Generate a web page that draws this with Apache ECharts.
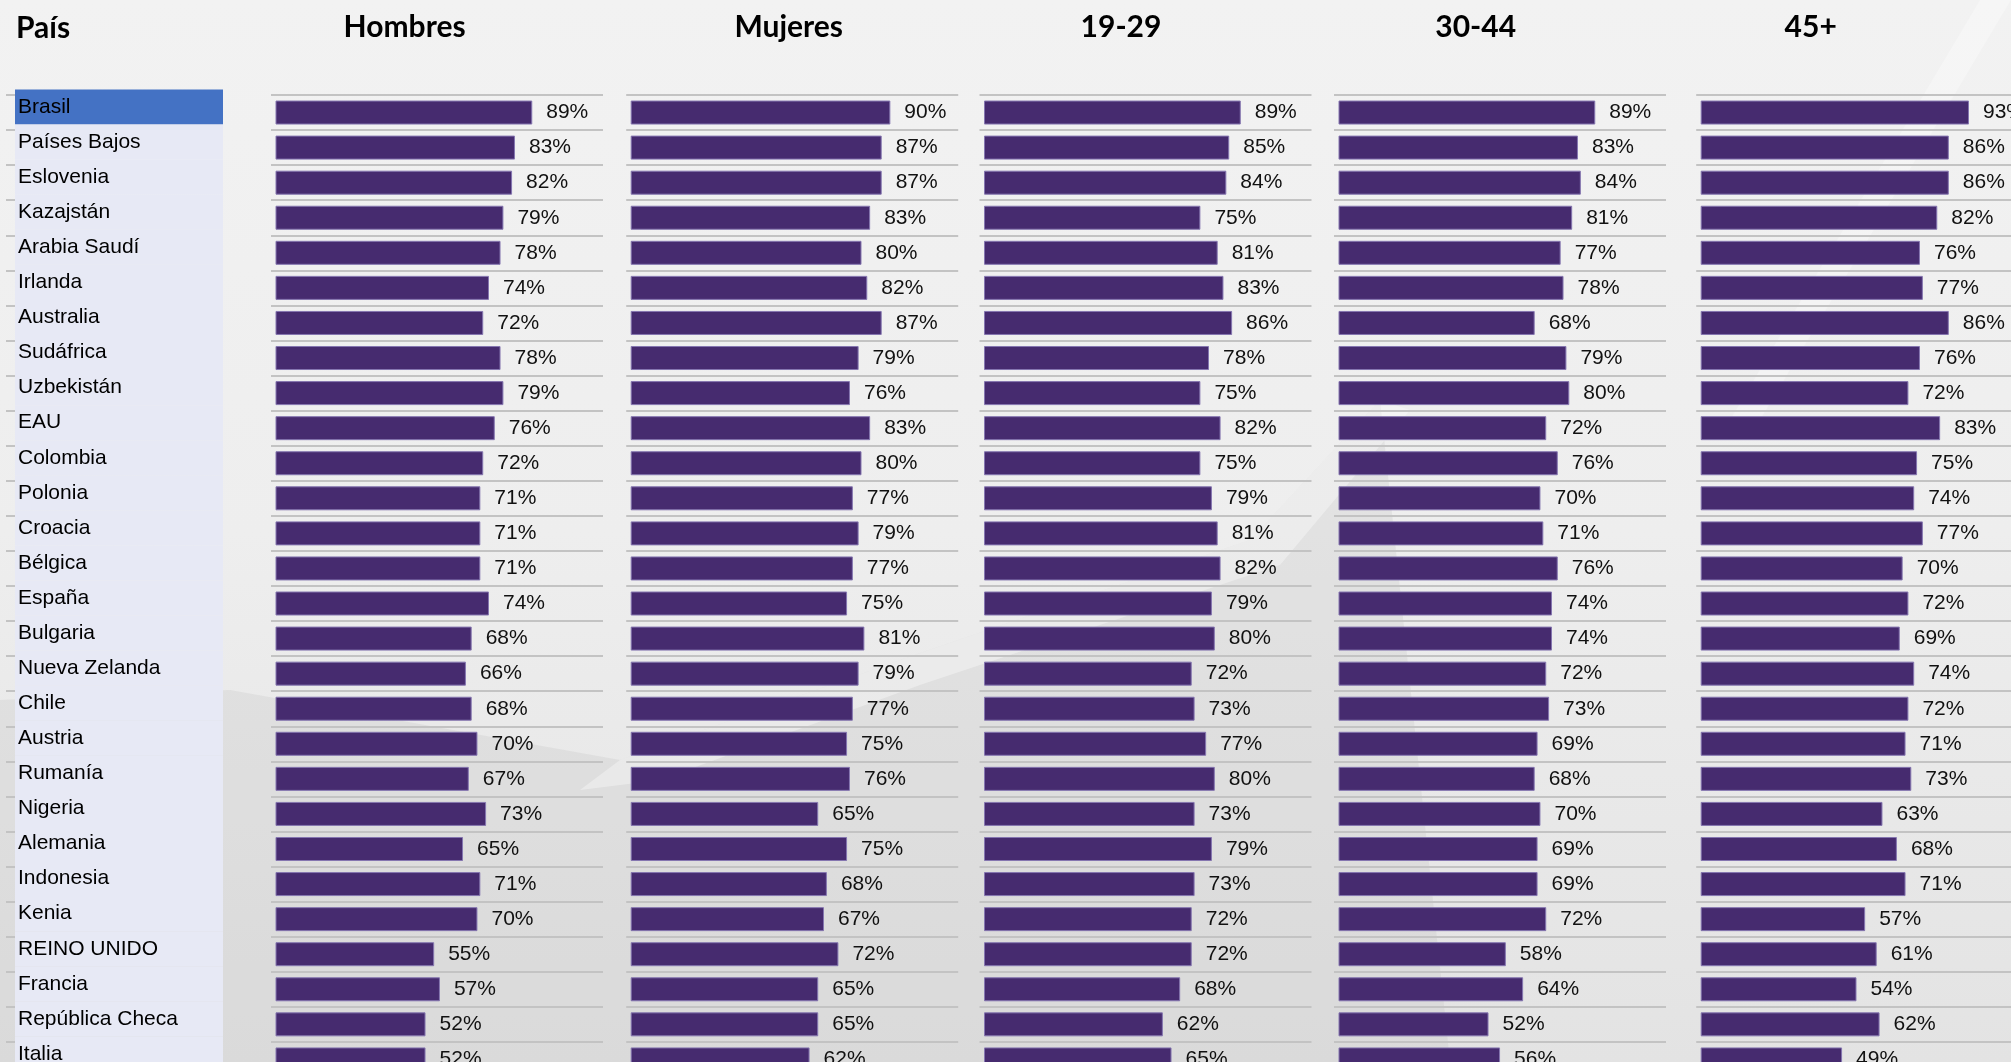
<!DOCTYPE html>
<html>
<head>
<meta charset="utf-8">
<title>País</title>
<script src="https://cdn.jsdelivr.net/npm/echarts@6/dist/echarts.min.js"></script>
<style>
html,body{margin:0;padding:0;background:#efefef;}
#main{width:2011px;height:1062px;}
</style>
</head>
<body>
<div id="main"></div>
<script>
// datos (% por país)
var paises=['Brasil','Países Bajos','Eslovenia','Kazajstán','Arabia Saudí','Irlanda','Australia','Sudáfrica','Uzbekistán','EAU',
  'Colombia','Polonia','Croacia','Bélgica','España','Bulgaria','Nueva Zelanda','Chile','Austria','Rumanía',
  'Nigeria','Alemania','Indonesia','Kenia','REINO UNIDO','Francia','República Checa','Italia'];
var columnas=['Hombres','Mujeres','19-29','30-44','45+'];
var hombres=[89,83,82,79,78,74,72,78,79,76,72,71,71,71,74,68,66,68,70,67,73,65,71,70,55,57,52,52];
var mujeres=[90,87,87,83,80,82,87,79,76,83,80,77,79,77,75,81,79,77,75,76,65,75,68,67,72,65,65,62];
var edad1929=[89,85,84,75,81,83,86,78,75,82,75,79,81,82,79,80,72,73,77,80,73,79,73,72,72,68,62,65];
var edad3044=[89,83,84,81,77,78,68,79,80,72,76,70,71,76,74,74,72,73,69,68,70,69,69,72,58,64,52,56];
var edad45=[93,86,86,82,76,77,86,76,72,83,75,74,77,70,72,69,74,72,71,73,63,68,71,57,61,54,62,49];
var valores=[hombres,mujeres,edad1929,edad3044,edad45];

var myChart=echarts.init(document.getElementById('main'));

var filaAlto=35.07;
var altoTabla=filaAlto*paises.length;
var topPaises=89.5;
var topBarras=95;
var colIzq=[271,626.2,979.5,1334,1696.2];   //inicio de las lineas de cada columna
var tituloX=[404.6,788.7,1121,1475.7,1810.7];
var pxPorPunto=2.885;
var anchoCol=332;
var margen=4.5;
var morado='#462b6f';
var fuente='"Liberation Sans", Arial, sans-serif';

var grids=[],xAxes=[],yAxes=[],series=[];

// columna de paises
grids.push({left:15,top:topPaises,width:208,height:altoTabla,outerBoundsMode:'none'});
xAxes.push({gridIndex:0,type:'value',min:0,max:1,show:false});
yAxes.push({gridIndex:0,type:'category',inverse:true,data:paises,z:10,
  axisLine:{show:false},axisTick:{show:false},splitLine:{show:false},
  axisLabel:{inside:true,margin:3,fontSize:21,fontFamily:fuente,color:'#000',interval:0}});
series.push({type:'bar',xAxisIndex:0,yAxisIndex:0,silent:true,barCategoryGap:'0%',
  data:paises.map(function(p,i){
    return {value:1,itemStyle:{color:i==0?'#4472c4':'#e7e9f5'}};
  })});

// rayitas a la izquierda
grids.push({left:6,top:topBarras,width:9,height:altoTabla,outerBoundsMode:'none'});
xAxes.push({gridIndex:1,type:'value',show:false});
yAxes.push({gridIndex:1,type:'category',inverse:true,data:paises,
  axisLine:{show:false},axisTick:{show:false},axisLabel:{show:false},
  splitLine:{show:true,interval:0,lineStyle:{color:'#c3c3c3',width:2}}});

for(var i=0;i<valores.length;i++){
  var g=i+2;
  grids.push({left:colIzq[i],top:topBarras,width:anchoCol,height:altoTabla,outerBoundsMode:'none'});
  xAxes.push({gridIndex:g,type:'value',show:false,
    min:-margen/pxPorPunto,max:(anchoCol-margen)/pxPorPunto});
  yAxes.push({gridIndex:g,type:'category',inverse:true,data:paises,
    axisLine:{show:false},axisTick:{show:false},axisLabel:{show:false},
    splitLine:{show:true,interval:0,lineStyle:{color:'#c3c3c3',width:2}}});
  series.push({
    name:columnas[i],type:'bar',xAxisIndex:g,yAxisIndex:g,
    data:valores[i],barWidth:24,
    itemStyle:{color:morado,borderColor:'#8576b0',borderWidth:1},
    label:{show:true,position:'right',distance:14,formatter:'{c}%',
      fontSize:21,fontFamily:fuente,color:'#111'}
  });
}

var graficos=[
  {type:'rect',z:-10,shape:{x:0,y:0,width:2011,height:1062},
   style:{fill:new echarts.graphic.LinearGradient(0,0,0,1,[
     {offset:0,color:'#f2f2f2'},{offset:0.5,color:'#eeeeee'},{offset:1,color:'#e3e3e3'}])}},
  // zona gris abajo a la izquierda
  {type:'polygon',z:-9,shape:{points:[[0,1062],[0,700],[230,690],[620,760],[900,660],[1250,540],[1380,400],[1450,1062]]},
   style:{fill:'rgba(190,190,190,0.25)'}},
  // brillo diagonal
  {type:'polygon',z:-8,shape:{points:[[1380,400],[1250,540],[900,660],[620,760],[580,790],[660,780],[920,685],[1280,565],[1410,410]]},
   style:{fill:'rgba(255,255,255,0.35)'}},
  {type:'polygon',z:-8,shape:{points:[[1980,0],[2011,0],[1760,420],[1730,420]]},
   style:{fill:'rgba(255,255,255,0.3)'}},
  {type:'text',z:10,left:16,top:13,style:{text:'País',fontSize:30,fontWeight:'bold',fontFamily:'Lato',fill:'#000'}}
];
for(var k=0;k<columnas.length;k++){
  graficos.push({type:'text',z:10,x:tituloX[k],y:27,
    style:{text:columnas[k],fontSize:30,fontWeight:'bold',fontFamily:'Lato',fill:'#000',align:'center',verticalAlign:'middle'}});
}

var option={
  animation:false,
  backgroundColor:'#efefef',
  graphic:graficos,
  grid:grids,
  xAxis:xAxes,
  yAxis:yAxes,
  series:series
};
myChart.setOption(option);
</script>
</body>
</html>
